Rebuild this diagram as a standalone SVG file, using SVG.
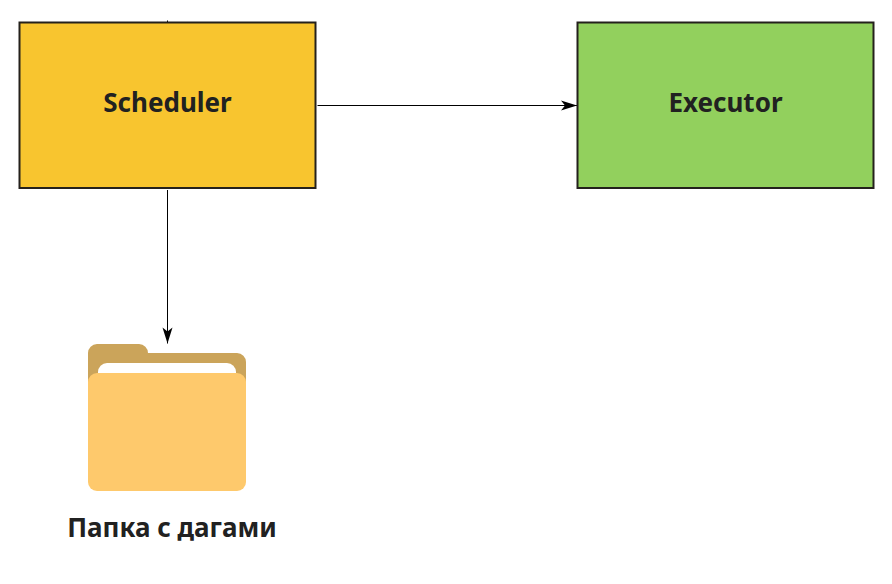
<svg xmlns="http://www.w3.org/2000/svg" width="892" height="584" viewBox="0 0 892 584">
<style>
.box{stroke:#24211c;stroke-width:2}
text{font-family:"Noto Sans","Open Sans",sans-serif;font-weight:700;fill:#212121;text-anchor:middle;font-size:26px}
.c{fill:none;stroke:#000;stroke-width:1}
</style>
<defs><marker id="a" markerUnits="userSpaceOnUse" markerWidth="18" markerHeight="12" refX="17" refY="6" orient="auto"><path d="M1 1L17 6L1 11L5 6Z" fill="#000"/></marker></defs>
<rect width="892" height="584" fill="#fff"/>
<g id="connectors">
<path class="c" d="M317.500 105.500H577" marker-end="url(#a)"/>
<path class="c" d="M167.500 190V343.500" marker-end="url(#a)"/>
<path class="c" d="M167.500 20.500V22"/>
</g>
<g id="scheduler"><rect class="box" x="19.500" y="22.500" width="296" height="165.500" fill="#f8c52f"/><text x="167.500" y="112">Scheduler</text></g>
<g id="executor"><rect class="box" x="577.500" y="22.500" width="296" height="165.500" fill="#92d05d"/><text x="725.500" y="112">Executor</text></g>
<g id="folder">
<path d="M88 382V353a9 9 0 0 1 9-9H139a9 9 0 0 1 9 9H237a9 9 0 0 1 9 9V382Z" fill="#cba45a"/>
<path d="M98 380V372a9 9 0 0 1 9-9H227a9 9 0 0 1 9 9V380Z" fill="#fff"/>
<rect x="88" y="373" width="158" height="118" rx="9" fill="#fec96c"/>
<text x="172" y="537">Папка с дагами</text>
</g>
</svg>
